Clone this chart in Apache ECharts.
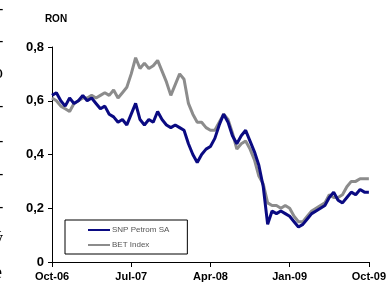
<!DOCTYPE html>
<html>
<head>
<meta charset="utf-8">
<script src="https://cdn.jsdelivr.net/npm/echarts@6/dist/echarts.min.js"></script>
<style>
  html, body { margin: 0; padding: 0; background: #fff; }
  #chart { width: 389px; height: 294px; }
</style>
</head>
<body>
<div id="chart"></div>
<script>
// x positions are months from Oct-06, sampled every half month
const step = 0.5;
const xLabels = ['Oct-06', 'Jul-07', 'Apr-08', 'Jan-09', 'Oct-09'];
const yTicks = [0, 0.2, 0.4, 0.6, 0.8];
const seriesNames = ['SNP Petrom SA', 'BET Index'];

const petrom = [
  0.62, 0.63, 0.60, 0.58, 0.61, 0.59, 0.60, 0.62, 0.60, 0.61,
  0.59, 0.57, 0.58, 0.55, 0.54, 0.52, 0.53, 0.51, 0.55, 0.59,
  0.53, 0.51, 0.53, 0.52, 0.56, 0.53, 0.51, 0.50, 0.51, 0.50,
  0.49, 0.44, 0.40, 0.37, 0.40, 0.42, 0.43, 0.46, 0.51, 0.55,
  0.52, 0.47, 0.44, 0.47, 0.49, 0.45, 0.41, 0.36, 0.28, 0.14,
  0.19, 0.18, 0.19, 0.18, 0.17, 0.15, 0.13, 0.14, 0.16, 0.18,
  0.19, 0.20, 0.21, 0.24, 0.26, 0.23, 0.22, 0.24, 0.26, 0.25,
  0.27, 0.26, 0.26
];

const bet = [
  0.61, 0.60, 0.58, 0.57, 0.56, 0.59, 0.60, 0.61, 0.61, 0.62,
  0.61, 0.62, 0.63, 0.62, 0.64, 0.61, 0.63, 0.65, 0.70, 0.76,
  0.72, 0.74, 0.72, 0.73, 0.75, 0.71, 0.67, 0.62, 0.66, 0.70,
  0.68, 0.59, 0.55, 0.52, 0.52, 0.50, 0.49, 0.49, 0.52, 0.55,
  0.53, 0.48, 0.42, 0.44, 0.45, 0.42, 0.38, 0.32, 0.29, 0.22,
  0.21, 0.21, 0.20, 0.21, 0.20, 0.17, 0.15, 0.15, 0.17, 0.19,
  0.20, 0.21, 0.22, 0.25, 0.24, 0.24, 0.25, 0.28, 0.30, 0.30,
  0.31, 0.31, 0.31
];

const toPairs = (arr) => arr.map((v, i) => [i * step, v]);

const chart = echarts.init(document.getElementById('chart'), null, {renderer: 'canvas'});

const boldFont = "'Liberation Sans Narrow', 'Liberation Sans', Arial, sans-serif";

const option = {
  animation: false,
  backgroundColor: '#fff',
  grid: {left: 52, right: 13, top: 47, bottom: 32},
  legend: {
    orient: 'vertical',
    left: 65,
    top: 220,
    padding: [6, 18, 5, 23],
    itemGap: 7,
    itemWidth: 22,
    itemHeight: 2,
    icon: 'rect',
    borderColor: '#000',
    borderWidth: 1,
    backgroundColor: '#fff',
    textStyle: {fontSize: 8, color: '#555', fontFamily: boldFont, padding: [0, 0, 0, -3]},
    data: seriesNames
  },
  xAxis: {
    type: 'value',
    min: 0,
    max: 36,
    interval: 9,
    axisLine: {lineStyle: {color: '#000', width: 1}},
    axisTick: {inside: false, length: 5, lineStyle: {color: '#000'}},
    splitLine: {show: false},
    axisLabel: {
      color: '#000',
      fontSize: 11,
      fontWeight: 'bold',
      fontFamily: boldFont,
      margin: 9,
      formatter: (v) => xLabels[Math.round(v / 9)]
    }
  },
  yAxis: {
    type: 'value',
    min: 0,
    max: 0.8,
    interval: 0.2,
    name: 'RON',
    nameLocation: 'end',
    nameGap: 23,
    nameTextStyle: {color: '#000', fontSize: 10, fontWeight: 'bold', fontFamily: boldFont, padding: [0, 0, 0, 8]},
    axisLine: {show: true, lineStyle: {color: '#000', width: 1}},
    axisTick: {show: true, length: 4, lineStyle: {color: '#000'}},
    splitLine: {show: false},
    axisLabel: {
      color: '#000',
      fontSize: 13,
      fontWeight: 'bold',
      fontFamily: boldFont,
      margin: 8,
      formatter: (v) => {
        const t = yTicks.find((k) => Math.abs(k - v) < 1e-6);
        return t === 0 ? '0' : t.toFixed(1).replace('.', ',');
      }
    }
  },
  graphic: [
    {type: 'text', left: -2, top: 2, style: {text: '-', font: '16px serif', fill: '#000'}},
    {type: 'text', left: -2, top: 34, style: {text: '-', font: '16px serif', fill: '#000'}},
    {type: 'text', left: -6, top: 64, style: {text: 'o', font: '18px serif', fill: '#000'}},
    {type: 'text', left: -2, top: 99, style: {text: '-', font: '16px serif', fill: '#000'}},
    {type: 'text', left: -2, top: 134, style: {text: '-', font: '16px serif', fill: '#000'}},
    {type: 'text', left: -2, top: 167, style: {text: '-', font: '16px serif', fill: '#000'}},
    {type: 'text', left: -2, top: 200, style: {text: '-', font: '16px serif', fill: '#000'}},
    {type: 'text', left: -6, top: 230, style: {text: 'ý', font: '18px serif', fill: '#000'}},
    {type: 'text', left: -6, top: 264, style: {text: 'e', font: '18px serif', fill: '#000'}}
  ],
  series: [
    {
      name: seriesNames[1],
      type: 'line',
      data: toPairs(bet),
      symbol: 'none',
      color: '#8c8c8c',
      lineStyle: {width: 3, color: '#8c8c8c'}
    },
    {
      name: seriesNames[0],
      type: 'line',
      data: toPairs(petrom),
      symbol: 'none',
      color: '#0a0a82',
      lineStyle: {width: 3, color: '#0a0a82'}
    }
  ]
};

chart.setOption(option);
</script>
</body>
</html>
